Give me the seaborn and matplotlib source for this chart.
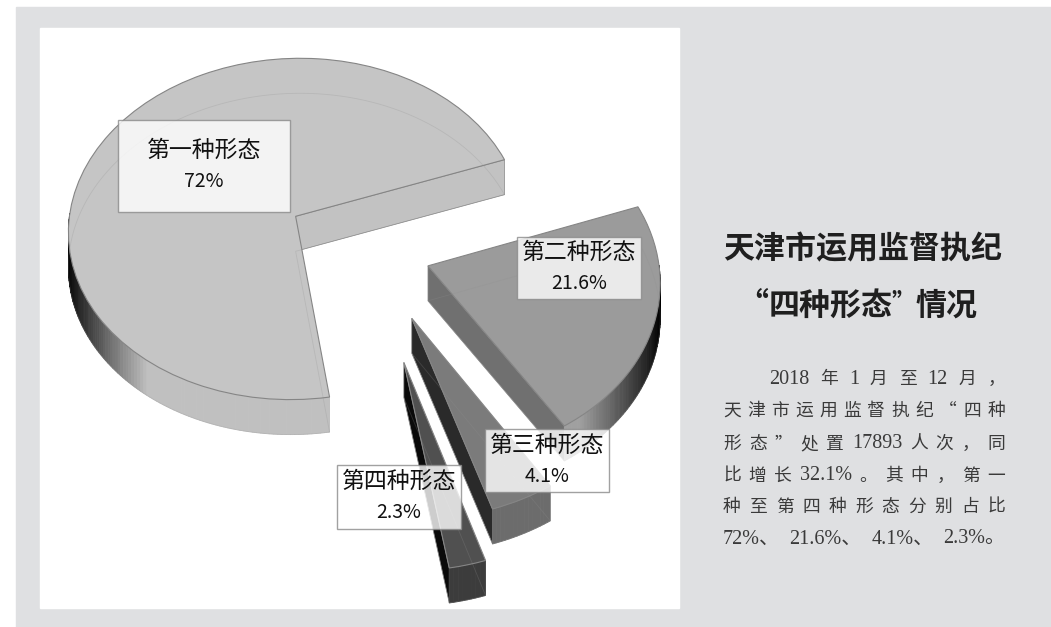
import numpy as np
import matplotlib
matplotlib.use("Agg")
import matplotlib.pyplot as plt
import matplotlib.transforms as mtransforms
from matplotlib.patches import Rectangle
import seaborn as sns

# data
categories = ["第一种形态", "第二种形态", "第三种形态", "第四种形态"]
shares = [72, 21.6, 4.1, 2.3]
share_labels = ["72%", "21.6%", "4.1%", "2.3%"]
explode = [0.33, 0.33, 0.45, 0.66]

top_colors = ["#c5c5c5", "#9b9b9b", "#7b7b7b", "#505050"]
wall_colors = ["#c2c2c2", "#707070", "#2a2a2a", "#0a0a0a"]
rim_dark = ["#000000", "#000000", "#6c6c6c", "#3c3c3c"]
rim_light = ["#c0c0c0", "#a0a0a0", "#6c6c6c", "#3c3c3c"]

title_line1 = "天津市运用监督执纪"
title_line2 = ["“", "四种形态", "”", "情况"]
body_lines = [
    ["2018", "年", "1", "月", "至", "12", "月", "，"],
    list("天津市运用监督执纪“四种"),
    ["形", "态", "”", "处", "置", "17893", "人", "次", "，", "同"],
    ["比", "增", "长", "32.1%", "。", "其", "中", "，", "第", "一"],
    list("种至第四种形态分别占比"),
    ["72%、", "21.6%、", "4.1%、", "2.3%。"],
]

# layout, pixels of the 1051x627 picture
CENTER = (360, 245)
RX, RY, PERSP = 229, 174, 0.075
DEPTH = 35
# small shifts of the slices on top of explode, in pie units
nudge = [(0, 0), (-0.018, -0.012), (0.03, 0), (0.03, 0)]
label_boxes = [(118, 120, 172, 92), (517, 237, 124, 62), (485, 429, 124, 63), (337, 465, 124, 64)]
title2_x = [768, 769, 891, 915]
title2_y = [306, 306, 303, 306]
title2_size = [22.3, 22.3, 17, 22.3]
title2_ha = ["right", "left", "left", "left"]
body_y = [379, 411, 444, 476, 507, 539]
body_x = (723, 1005)

sns.set_theme(style="white")
plt.rcParams["font.family"] = ["Noto Sans CJK SC", "DejaVu Sans"]


class Tilt(mtransforms.Transform):
    # lays the flat pie down on the table, front part a bit bigger
    input_dims = 2
    output_dims = 2
    is_separable = False
    has_inverse = False

    def transform_non_affine(self, values):
        values = np.asarray(values, dtype=float)
        w = 1 + PERSP * values[:, 1]
        return np.column_stack([CENTER[0] + RX * values[:, 0] / w,
                                CENTER[1] - RY * values[:, 1] / w])


tilt = Tilt()


def rim_point(wedge, theta):
    a = np.radians(theta)
    p = np.array([[wedge.center[0] + wedge.r * np.cos(a), wedge.center[1] + wedge.r * np.sin(a)]])
    return tilt.transform(p)[0]


fig = plt.figure(figsize=(10.51, 6.27), dpi=100, facecolor="white")
ax = fig.add_axes([0, 0, 1, 1])

wedges, _ = ax.pie(shares, explode=explode, startangle=279.2, counterclock=False,
                   colors=top_colors, radius=1,
                   wedgeprops={"edgecolor": "#858585", "linewidth": 0.8})

ax.set_aspect("auto")
ax.set_xlim(0, 1051)
ax.set_ylim(627, 0)
ax.axis("off")

ax.add_patch(Rectangle((16, 7), 1035, 620, color="#dfe0e2", zorder=0))
ax.add_patch(Rectangle((40, 28), 639, 580, color="white", zorder=0.5))

for i, w in enumerate(wedges):
    base = 2 + i * 3
    w.set_center((w.center[0] + nudge[i][0], w.center[1] + nudge[i][1]))
    w.set_transform(tilt + ax.transData)
    w.set_zorder(base + 2)
    apex = tilt.transform(np.array([w.center]))[0]
    end1 = rim_point(w, w.theta1)
    end2 = rim_point(w, w.theta2)

    # straight wall on the side that looks at the viewer
    ax.fill([apex[0], end1[0], end1[0], apex[0]],
            [apex[1], end1[1], end1[1] + DEPTH, apex[1] + DEPTH],
            color=wall_colors[i], lw=0.5, ec="#858585", zorder=base)

    # outer rim, shaded by angle
    pal = sns.blend_palette([rim_dark[i], rim_light[i]], 60)
    th = np.arange(w.theta1, w.theta2 + 1, 1.0)
    th = np.minimum(th, w.theta2)
    for t0, t1 in zip(th[:-1], th[1:]):
        if np.sin(np.radians((t0 + t1) / 2)) > 0.01:
            continue
        p0, p1 = rim_point(w, t0), rim_point(w, t1)
        shade = min((1 - abs(np.cos(np.radians((t0 + t1) / 2)))) / 0.4, 1)
        c = pal[int(shade * 59)]
        ax.fill([p0[0], p1[0], p1[0], p0[0]],
                [p0[1], p1[1], p1[1] + DEPTH, p0[1] + DEPTH],
                color=c, lw=0.6, zorder=base + 1)

    # bottom outline, seen faintly through the top
    th_all = np.linspace(w.theta1, w.theta2, 120)
    arc = np.array([rim_point(w, t) for t in th_all])
    ax.plot(arc[:, 0], arc[:, 1] + DEPTH, color="#8f8f8f", lw=0.6, alpha=0.25, zorder=base + 2.5)
    ax.plot([end1[0], apex[0], end2[0]],
            [end1[1] + DEPTH, apex[1] + DEPTH, end2[1] + DEPTH],
            color="#8f8f8f", lw=0.6, alpha=0.25, zorder=base + 2.5)

# label boxes
for name, value, (x, y, bw, bh) in zip(categories, share_labels, label_boxes):
    ax.add_patch(Rectangle((x, y), bw, bh, fc="white", ec="#8a8a8a", lw=1, alpha=0.8, zorder=30))
    ax.text(x + bw / 2, y + bh / 2 - 15.5, name, fontsize=16.5, color="#111111",
            ha="center", va="center", zorder=31)
    ax.text(x + bw / 2, y + bh / 2 + 15.5, value, fontsize=14, color="#111111", fontweight="medium",
            ha="center", va="center", zorder=31)

# title
ax.text(863, 249, title_line1, fontsize=22.3, fontweight="bold", color="#1f1f1f",
        ha="center", va="center", zorder=31)
for part, px, py, size, ha in zip(title_line2, title2_x, title2_y, title2_size, title2_ha):
    ax.text(px, py, part, fontsize=size, fontweight="bold", color="#1f1f1f",
            ha=ha, va="center", zorder=31)

# body text, justified token by token
fig.canvas.draw()
renderer = fig.canvas.get_renderer()
for n, (tokens, y) in enumerate(zip(body_lines, body_y)):
    items = []
    for tok in tokens:
        if any(ch.isascii() for ch in tok):
            items.append(ax.text(0, y, tok, fontsize=14.5, color="#3a3a3a", va="center", ha="left",
                                 family=["Liberation Serif", "Noto Sans CJK SC"], zorder=31))
        else:
            items.append(ax.text(0, y, tok, fontsize=12.8, color="#3a3a3a", va="center", ha="left",
                                 zorder=31))
    widths = [it.get_window_extent(renderer).width for it in items]
    left = 769 if n == 0 else body_x[0]
    gap = (body_x[1] - left - sum(widths)) / (len(items) - 1)
    x = left
    for it, wd in zip(items, widths):
        it.set_x(x)
        x += wd + gap

fig.savefig("out.png", dpi=100)
